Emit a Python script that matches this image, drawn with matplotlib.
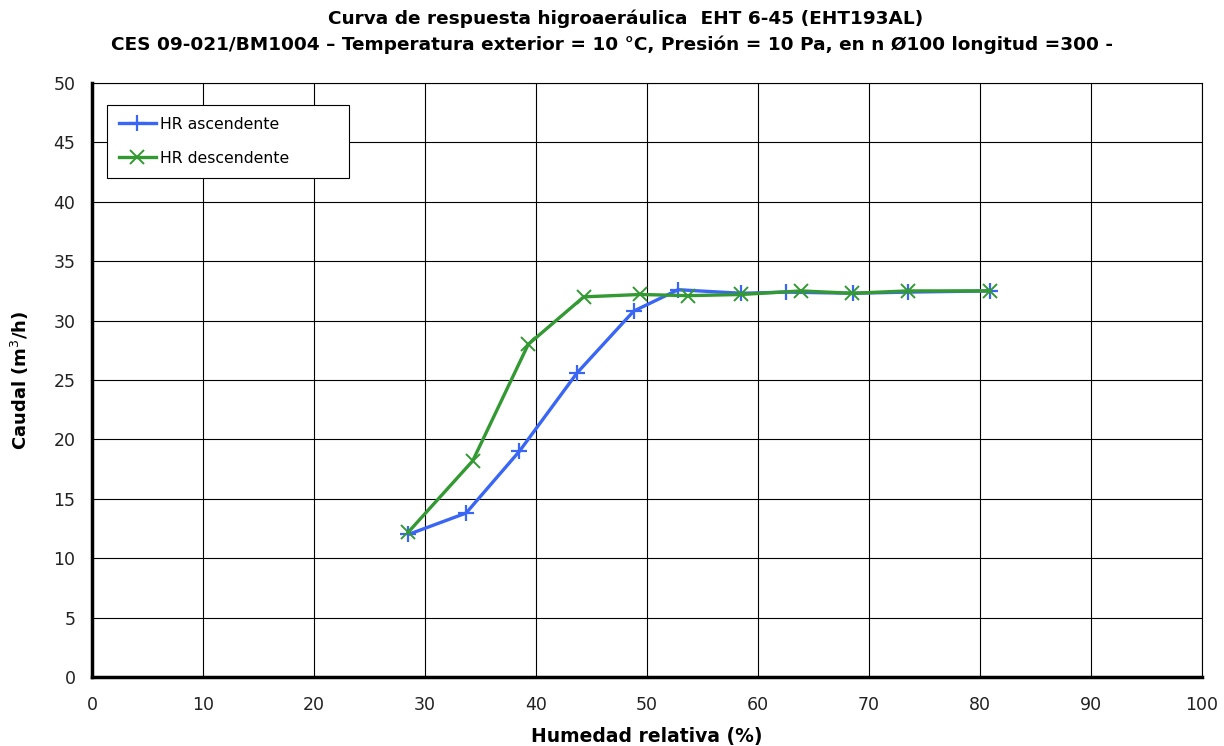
import numpy as np
import matplotlib.pyplot as plt

# datos
hr_asc = [28.5, 33.7, 38.5, 43.7, 48.8, 52.8, 58.5, 62.5, 68.6, 73.5, 80.9]
q_asc = [12.0, 13.8, 19.0, 25.6, 30.8, 32.6, 32.3, 32.4, 32.3, 32.4, 32.5]
hr_desc = [28.5, 34.3, 39.3, 44.3, 49.4, 53.7, 58.5, 63.9, 68.5, 73.5, 80.9]
q_desc = [12.2, 18.2, 28.0, 32.0, 32.2, 32.1, 32.2, 32.5, 32.3, 32.5, 32.5]

x_ticks = np.arange(0, 101, 10)
y_ticks = np.arange(0, 51, 5)

titulo1 = 'Curva de respuesta higroaeráulica  EHT 6-45 (EHT193AL)'
titulo2 = 'CES 09-021/BM1004 – Temperatura exterior = 10 °C, Presión = 10 Pa, en n Ø100 longitud =300 -'

plt.rcParams['font.family'] = ['DejaVu Sans']

fig = plt.figure(figsize=(12.24, 7.46), dpi=100)
ax = fig.add_axes([0.0752, 0.0925, 0.9068, 0.7962])

ax.plot(hr_asc, q_asc, color='#3A66F5', lw=2.4, marker='+', ms=11, mew=1.6,
        label='HR ascendente', zorder=3)
ax.plot(hr_desc, q_desc, color='#339933', lw=2.4, marker='x', ms=10, mew=1.4,
        label='HR descendente', zorder=3)

ax.set_xlim(0, 100)
ax.set_ylim(0, 50)
ax.set_xticks(x_ticks)
ax.set_yticks(y_ticks)
ax.grid(True, color='black', lw=0.8)
ax.set_axisbelow(True)
ax.tick_params(labelsize=12.5, length=0, labelcolor='#222222')
ax.tick_params(axis='x', pad=14)
ax.tick_params(axis='y', pad=12)

for s in ['top', 'right']:
    ax.spines[s].set_linewidth(0.8)
for s in ['left', 'bottom']:
    ax.spines[s].set_linewidth(2.5)

ax.set_xlabel('Humedad relativa (%)', fontsize=13.5, fontweight='bold', labelpad=9)
ax.set_ylabel('Caudal (m$^3$/h)', fontsize=13, fontweight='bold', labelpad=16)

fig.text(0.511, 0.975, titulo1, ha='center', va='center', fontsize=13.3, fontweight='bold')
fig.text(0.5, 0.94, titulo2, ha='center', va='center', fontsize=13.3, fontweight='bold')

leg = ax.legend(loc='upper left', bbox_to_anchor=(0.0063, 0.5, 0.2324, 0.476),
                mode='expand', fontsize=11.3,
                fancybox=False, edgecolor='black', framealpha=1,
                borderpad=0.75, labelspacing=1.2, handlelength=2.4, handletextpad=0.25)
leg.get_frame().set_linewidth(0.8)

plt.savefig('out.png', dpi=100)
